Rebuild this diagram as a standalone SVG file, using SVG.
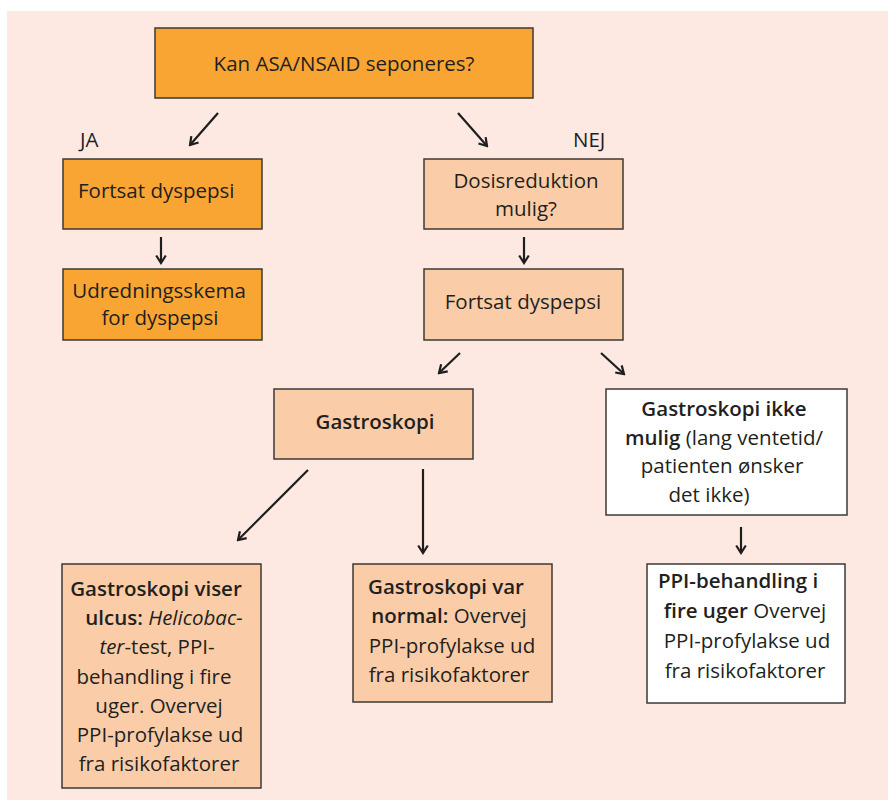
<svg xmlns="http://www.w3.org/2000/svg" width="888" height="800" viewBox="0 0 888 800">
<defs>
<marker id="ah" viewBox="-9 -6 11 12" refX="0" refY="0" markerWidth="11" markerHeight="12" markerUnits="userSpaceOnUse" orient="auto">
<path d="M-7.5,-4.8 L0,0 L-7.5,4.8" fill="none" stroke="#1e1e1e" stroke-width="2.2" stroke-linejoin="miter"/>
</marker>
</defs>
<style>
text{font-family:"Open Sans","Liberation Sans",sans-serif;font-size:20.5px;fill:#231f20}
.m{text-anchor:middle}
.b{font-weight:600}
.i{font-style:italic}
.box{stroke:#3d3935;stroke-width:1.5}
.o{fill:#F9A533}
.p{fill:#FACDA8}
.w{fill:#ffffff}
.c line{stroke:#1e1e1e;stroke-width:2.2;marker-end:url(#ah)}
</style>
<rect x="7" y="11" width="881" height="789" fill="#FDE9E2"/>

<g id="n-top"><rect class="box o" x="155" y="28" width="378" height="70"/><text class="m" x="344" y="71">Kan ASA/NSAID seponeres?</text></g>
<g id="l-ja"><text x="80" y="147">JA</text></g>
<g id="l-nej"><text x="573" y="147">NEJ</text></g>
<g id="n-fortsat1"><rect class="box o" x="63" y="159" width="199" height="70"/><text x="78" y="198">Fortsat dyspepsi</text></g>
<g id="n-udred"><rect class="box o" x="63" y="269" width="199" height="71"/><text class="m" x="159" y="298">Udredningsskema</text><text class="m" x="160" y="325">for dyspepsi</text></g>
<g id="n-dosis"><rect class="box p" x="424" y="159" width="199" height="70"/><text class="m" x="526" y="188">Dosisreduktion</text><text class="m" x="526" y="216">mulig?</text></g>
<g id="n-fortsat2"><rect class="box p" x="424" y="269" width="199" height="71"/><text class="m" x="523" y="309">Fortsat dyspepsi</text></g>
<g id="n-gastro"><rect class="box p" x="274" y="389" width="199" height="70"/><text class="m b" x="375" y="429">Gastroskopi</text></g>
<g id="n-ikke"><rect class="box w" x="606" y="389" width="241" height="126"/>
<text class="m" x="724" y="416"><tspan class="b">Gastroskopi ikke</tspan></text>
<text class="m" x="724" y="445"><tspan class="b">mulig</tspan> (lang ventetid/</text>
<text class="m" x="722" y="473">patienten ønsker</text>
<text class="m" x="709" y="502">det ikke)</text></g>
<g id="n-ulcus"><rect class="box p" x="62" y="564" width="199" height="224"/>
<text class="m" x="156" y="596"><tspan class="b">Gastroskopi viser</tspan></text>
<text class="m" x="164" y="625"><tspan class="b">ulcus:</tspan> <tspan class="i">Helicobac-</tspan></text>
<text class="m" x="157" y="654"><tspan class="i">ter</tspan>-test, PPI-</text>
<text class="m" x="154" y="684">behandling i fire</text>
<text class="m" x="159" y="713">uger. Overvej</text>
<text class="m" x="160" y="742">PPI-profylakse ud</text>
<text class="m" x="159" y="771">fra risikofaktorer</text></g>
<g id="n-normal"><rect class="box p" x="353" y="564" width="199" height="138"/>
<text class="m" x="446" y="594"><tspan class="b">Gastroskopi var</tspan></text>
<text class="m" x="449" y="623"><tspan class="b">normal:</tspan> Overvej</text>
<text class="m" x="452" y="653">PPI-profylakse ud</text>
<text class="m" x="449" y="682">fra risikofaktorer</text></g>
<g id="n-ppi"><rect class="box w" x="647" y="564" width="198" height="139"/>
<text class="m" x="738" y="588"><tspan class="b">PPI-behandling i</tspan></text>
<text class="m" x="745" y="618"><tspan class="b">fire uger</tspan> Overvej</text>
<text class="m" x="747" y="648">PPI-profylakse ud</text>
<text class="m" x="745" y="678">fra risikofaktorer</text></g>

<g id="connectors" class="c">
<line x1="218" y1="113" x2="190" y2="145"/>
<line x1="458" y1="113" x2="487" y2="146"/>
<line x1="161" y1="237" x2="161" y2="263"/>
<line x1="524" y1="237" x2="524" y2="263"/>
<line x1="460" y1="353" x2="439" y2="373"/>
<line x1="601" y1="353" x2="624" y2="374"/>
<line x1="308" y1="470" x2="238" y2="540"/>
<line x1="423" y1="469" x2="423" y2="553"/>
<line x1="741" y1="527" x2="741" y2="553"/>
</g>
</svg>
